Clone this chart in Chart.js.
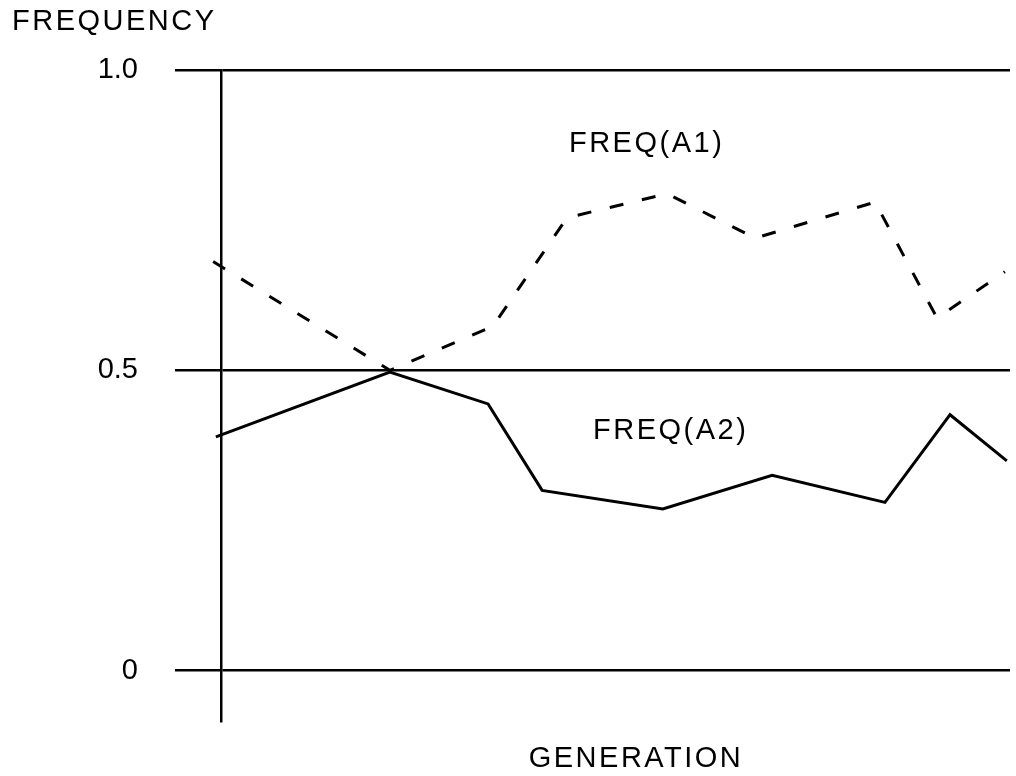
<!DOCTYPE html>
<html>
<head>
<meta charset="utf-8">
<script src="https://cdn.jsdelivr.net/npm/chart.js@4/dist/chart.umd.min.js"></script>
<style>
	html, body { margin: 0; padding: 0; background: #fff; }
	canvas { display: block; }
</style>
</head>
<body>
<canvas id="freqChart" width="1016" height="776"></canvas>
<script>
const genA1 = [-0.2, 4.28, 6.89, 8.77, 11.31, 13.54, 16.58, 18.15, 19.87];
const freqA1 = [0.681, 0.50, 0.573, 0.754, 0.794, 0.72, 0.78, 0.587, 0.664];

const genA2 = [-0.13, 4.28, 6.77, 8.14, 11.20, 13.97, 16.83, 18.48, 19.92];
const freqA2 = [0.389, 0.497, 0.444, 0.30, 0.269, 0.325, 0.280, 0.426, 0.349];

const yTickValues = [0, 0.5, 1.0];
const yTickLabels = ["0", "0.5", "1.0"];

const yTitle = "FREQUENCY";
const xTitle = "GENERATION";
const seriesLabels = ["FREQ(A1)", "FREQ(A2)"];

const FONT = '"Liberation Sans", Arial, Helvetica, sans-serif';

// free text: axis titles and the curve names
const textPlugin = {
	id: "textLabels",
	afterDraw(chart) {
		const { ctx, chartArea, scales } = chart;
		const x = scales.x, y = scales.y;
		ctx.save();
		ctx.fillStyle = "#000";
		ctx.font = "29px " + FONT;
		ctx.letterSpacing = "2.5px";
		ctx.textAlign = "left";
		ctx.textBaseline = "alphabetic";

		ctx.fillText(yTitle, 12, 30);
		ctx.fillText(xTitle, x.getPixelForValue(7.8), chartArea.bottom + 45);

		ctx.fillText(seriesLabels[0], x.getPixelForValue(8.82), y.getPixelForValue(0.863));
		ctx.fillText(seriesLabels[1], x.getPixelForValue(9.43), y.getPixelForValue(0.385));
		ctx.restore();
	}
};

const ctx = document.getElementById("freqChart").getContext("2d");

new Chart(ctx, {
	type: "line",
	data: {
		datasets: [
			{
				label: seriesLabels[0],
				data: genA1.map((g, i) => ({ x: g, y: freqA1[i] })),
				borderColor: "#000",
				borderWidth: 3,
				borderDash: [14, 19],
				pointRadius: 0,
				tension: 0,
				fill: false,
				clip: false
			},
			{
				label: seriesLabels[1],
				data: genA2.map((g, i) => ({ x: g, y: freqA2[i] })),
				borderColor: "#000",
				borderWidth: 3,
				pointRadius: 0,
				tension: 0,
				fill: false,
				clip: false
			}
		]
	},
	options: {
		responsive: false,
		animation: false,
		devicePixelRatio: 1,
		layout: { padding: { top: 70, right: 6, bottom: 49, left: 0 } },
		plugins: {
			legend: { display: false },
			tooltip: { enabled: false },
			title: { display: false }
		},
		scales: {
			x: {
				type: "linear",
				min: 0,
				max: 20,
				display: false
			},
			y: {
				type: "linear",
				min: -0.085,
				max: 1.0,
				bounds: "data",
				afterBuildTicks: function(scale) {
					scale.ticks = yTickValues.map(v => ({ value: v }));
				},
				afterFit: function(scale) {
					scale.width = 221;
				},
				ticks: {
					color: "#000",
					padding: 37,
					font: { size: 29, family: FONT },
					callback: function(value, index) {
						return yTickLabels[index];
					}
				},
				grid: {
					color: "#000",
					lineWidth: 2.5,
					drawTicks: true,
					tickLength: 46
				},
				border: { display: true, color: "#000", width: 2.5 }
			}
		}
	},
	plugins: [textPlugin]
});
</script>
</body>
</html>
